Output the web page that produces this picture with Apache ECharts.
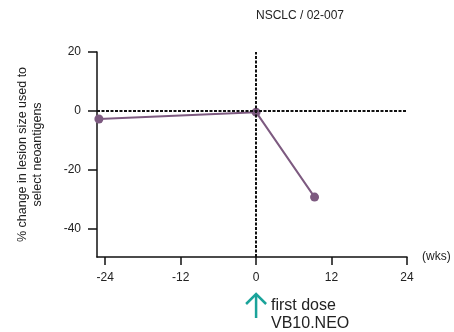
<!DOCTYPE html>
<html>
<head>
<meta charset="utf-8">
<script src="https://cdn.jsdelivr.net/npm/echarts@6/dist/echarts.min.js"></script>
<style>
  html, body { margin: 0; padding: 0; background: #fff; }
  #main { width: 454px; height: 332px; }
</style>
</head>
<body>
<div id="main"></div>
<script>
// data
var weeks = [-25, 0, 9.3];
var lesionChange = [-2.7, -0.4, -29.2];
var xTicks = [-24, -12, 0, 12, 24];
var yTicks = [-40, -20, 0, 20];

var chart = echarts.init(document.getElementById('main'));
var font = 'Liberation Sans, Arial, sans-serif';
var purple = '#7d5a80';

var points = [];
for (var i = 0; i < weeks.length; i++) {
    points.push([weeks[i], lesionChange[i]]);
}

var option = {
    backgroundColor: '#fff',
    animation: false,
    title: {
        text: 'NSCLC / 02-007',
        left: 256,
        top: 10,
        padding: 0,
        textStyle: { fontSize: 12, fontWeight: 'normal', color: '#222', fontFamily: font }
    },
    grid: { left: 97, right: 47, top: 52, bottom: 75 },
    xAxis: {
        type: 'value',
        min: -25.3,
        max: 24,
        name: '(wks)',
        nameLocation: 'end',
        nameGap: 15,
        nameTextStyle: { fontSize: 12, color: '#222', fontFamily: font, padding: [6, 0, 0, 0] },
        axisLine: { onZero: false, lineStyle: { color: '#111', width: 1.5 } },
        axisTick: { show: true, length: 8, customValues: xTicks, lineStyle: { color: '#111', width: 1.5 } },
        axisLabel: { customValues: xTicks, fontSize: 12, color: '#222', margin: 15, fontFamily: font },
        splitLine: { show: false }
    },
    yAxis: {
        type: 'value',
        min: -49.5,
        max: 20,
        name: '% change in lesion size used to\nselect neoantigens',
        nameLocation: 'middle',
        nameGap: 52,
        nameTextStyle: { fontSize: 12.5, color: '#222', lineHeight: 15, fontFamily: font },
        axisLine: { onZero: false, lineStyle: { color: '#111', width: 1.5 } },
        axisTick: { show: true, length: 9, customValues: yTicks, lineStyle: { color: '#111', width: 1.5 } },
        axisLabel: { customValues: yTicks, fontSize: 12, color: '#222', margin: 16, fontFamily: font },
        splitLine: { show: false }
    },
    series: [{
        type: 'line',
        data: points,
        symbol: 'circle',
        symbolSize: 9,
        lineStyle: { color: purple, width: 2 },
        itemStyle: { color: purple },
        markLine: {
            silent: true,
            symbol: 'none',
            label: { show: false },
            lineStyle: { color: '#111', type: [3, 1.5], width: 2 },
            data: [{ yAxis: 0 }, { xAxis: 0 }]
        },
        z: 3
    }]
};
chart.setOption(option);

// arrow marking the first dose, placed at week 0
var ax = chart.convertToPixel({ xAxisIndex: 0 }, 0);
chart.setOption({
    graphic: [{
        type: 'polyline',
        shape: { points: [[ax, 318], [ax, 294]] },
        style: { stroke: '#1aa39a', lineWidth: 2.5, fill: null }
    }, {
        type: 'polyline',
        shape: { points: [[ax - 10, 304], [ax, 294], [ax + 10, 304]] },
        style: { stroke: '#1aa39a', lineWidth: 2.5, fill: null }
    }, {
        type: 'text',
        left: 271,
        top: 297,
        style: {
            text: 'first dose\nVB10.NEO',
            fontSize: 16,
            lineHeight: 18,
            fill: '#222',
            fontFamily: font
        }
    }]
});
</script>
</body>
</html>
